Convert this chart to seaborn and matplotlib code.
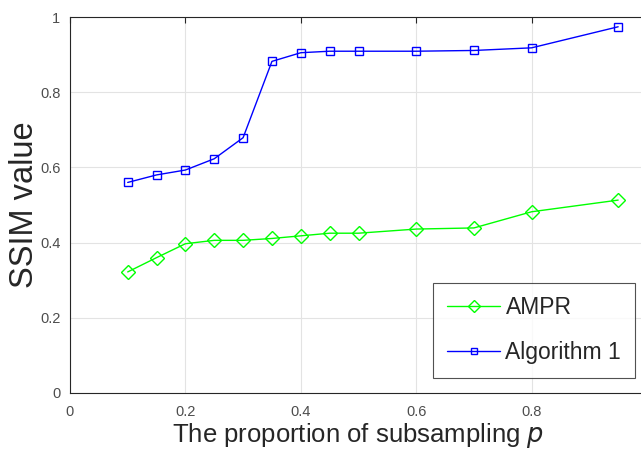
import matplotlib
matplotlib.use("Agg")
import matplotlib.pyplot as plt
import seaborn as sns
import pandas as pd

p_values = [0.1, 0.15, 0.2, 0.25, 0.3, 0.35, 0.4, 0.45, 0.5, 0.6, 0.7, 0.8, 0.95]
ampr = [0.322, 0.360, 0.397, 0.406, 0.406, 0.411, 0.418, 0.425, 0.425, 0.436, 0.439, 0.482, 0.513]
alg1 = [0.560, 0.580, 0.593, 0.623, 0.679, 0.882, 0.905, 0.909, 0.909, 0.909, 0.911, 0.918, 0.974]
series_names = ["AMPR", "Algorithm 1"]
x_ticks = [0, 0.2, 0.4, 0.6, 0.8]
x_tick_labels = ["0", "0.2", "0.4", "0.6", "0.8"]
y_ticks = [0, 0.2, 0.4, 0.6, 0.8, 1.0]
y_tick_labels = ["0", "0.2", "0.4", "0.6", "0.8", "1"]

sns.set_theme(style="white")
plt.rcParams['font.family'] = ['Liberation Sans', 'DejaVu Sans']

df = pd.DataFrame({
    "p": p_values * 2,
    "ssim": ampr + alg1,
    "method": [series_names[0]] * len(p_values) + [series_names[1]] * len(p_values),
})

fig = plt.figure(figsize=(6.41, 4.55), dpi=100)
ax = fig.add_axes([70 / 641, 1 - 393 / 455, 577 / 641, 376 / 455])

palette = {"AMPR": "#00ff00", "Algorithm 1": "#0000ff"}
markers = {"AMPR": "D", "Algorithm 1": "s"}
sizes = {"AMPR": 7, "Algorithm 1": 5.5}
for name in series_names:
    sub = df[df["method"] == name]
    sns.lineplot(data=sub, x="p", y="ssim", ax=ax, color=palette[name], lw=1.0,
                 marker=markers[name], markersize=sizes[name], markerfacecolor="none",
                 markeredgecolor=palette[name], markeredgewidth=1.0, label=name)

ax.set_xlim(0, 1)
ax.set_ylim(0, 1)
ax.set_xticks(x_ticks)
ax.set_xticklabels(x_tick_labels)
ax.set_yticks(y_ticks)
ax.set_yticklabels(y_tick_labels)
ax.grid(True, color="#e3e3e3", lw=0.8)
ax.set_axisbelow(True)
for s in ax.spines.values():
    s.set_color("#262626")
    s.set_linewidth(0.8)
ax.tick_params(direction="in", length=4, width=0.8, colors="#262626",
               labelcolor="#4d4d4d", labelsize=10.5, top=True, right=True)
ax.tick_params(axis="x", pad=9)
ax.tick_params(axis="y", pad=7)

ax.set_xlabel("The proportion of subsampling $p$", fontsize=18.5, color="#262626", labelpad=1)
ax.set_ylabel("SSIM value", fontsize=23.5, color="#262626", labelpad=0)

leg = ax.legend(loc="lower right", bbox_to_anchor=((635 - 70) / 577, 15 / 376), fontsize=16.5,
                frameon=True, fancybox=False, edgecolor="#262626", borderpad=0.6,
                labelspacing=0.95, handlelength=2.35, handletextpad=0.22, borderaxespad=0,
                markerscale=0.85)
leg.get_frame().set_linewidth(0.8)
for t in leg.get_texts():
    t.set_color("#262626")

fig.savefig("out.png", dpi=100)
